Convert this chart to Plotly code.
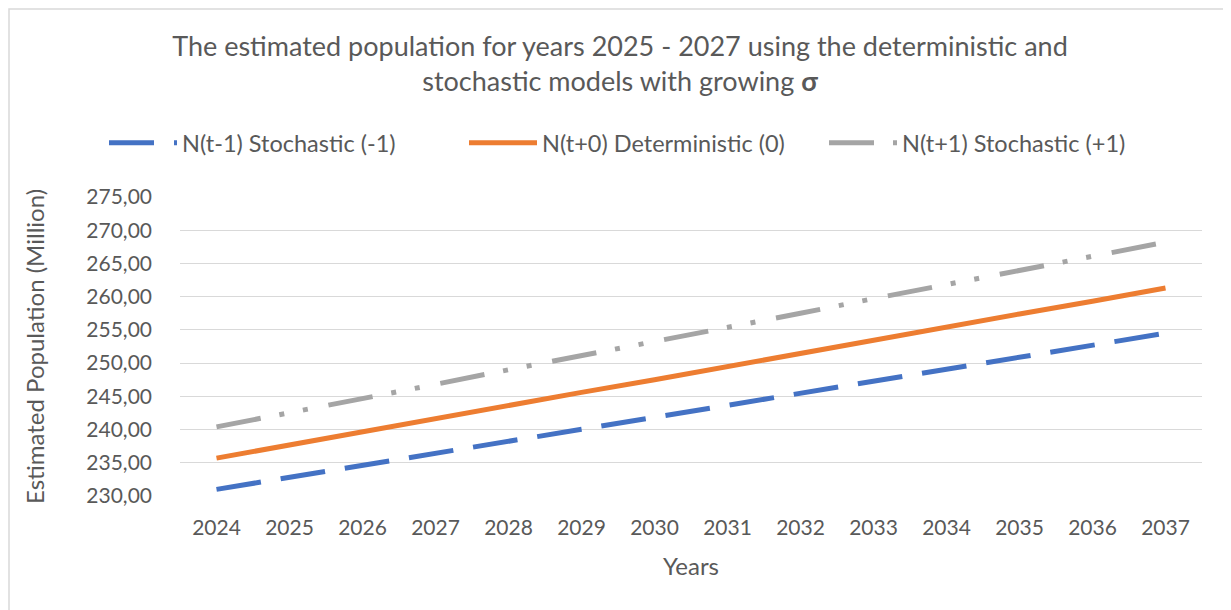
import plotly.graph_objects as go

years = ["2024", "2025", "2026", "2027", "2028", "2029", "2030",
         "2031", "2032", "2033", "2034", "2035", "2036", "2037"]
stoch_minus = [231.0, 232.8, 234.6, 236.4, 238.2, 240.1, 241.9,
               243.7, 245.5, 247.3, 249.1, 250.9, 252.7, 254.5]
determ = [235.7, 237.7, 239.6, 241.6, 243.6, 245.6, 247.5,
          249.5, 251.5, 253.4, 255.4, 257.4, 259.3, 261.3]
stoch_plus = [240.4, 242.5, 244.7, 246.8, 249.0, 251.1, 253.2,
              255.4, 257.5, 259.7, 261.8, 263.9, 266.1, 268.2]
y_ticks = [230, 235, 240, 245, 250, 255, 260, 265, 270, 275]

FONT = "Lato"
TXT = "#595959"

fig = go.Figure()
fig.add_trace(go.Scatter(x=years, y=stoch_minus, mode="lines",
                         name="N(t-1) Stochastic (-1)",
                         line=dict(color="#4472C4", width=5, dash="45px,20px")))
fig.add_trace(go.Scatter(x=years, y=determ, mode="lines",
                         name="N(t+0) Deterministic (0)",
                         line=dict(color="#ED7D31", width=5)))
fig.add_trace(go.Scatter(x=years, y=stoch_plus, mode="lines",
                         name="N(t+1) Stochastic (+1)",
                         line=dict(color="#A5A5A5", width=5,
                                   dash="45px,19px,5px,19px,5px,21px")))

# the page body has an 8px margin, so the figure is drawn 8px right/down
OFF = 8
W, H = 1231, 610
L, R, T, B = 172, 37, 189, 122
pw = W - L - R
ph = H - T - B

def px_x(p):  # screen px -> paper x
    return (p - OFF - L) / pw

def px_y(p):  # screen px -> paper y
    return 1 + (T - (p - OFF)) / ph

fig.update_layout(
    width=W, height=H,
    margin=dict(l=L, r=R, t=T, b=B, autoexpand=False),
    paper_bgcolor="white", plot_bgcolor="white",
    separators=",.",
    font=dict(family=FONT, color=TXT, size=20),
    title=dict(
        text="The estimated population for years 2025 - 2027 using the deterministic and<br>stochastic models with growing <b>σ</b>",
        x=(620 - OFF) / W, xanchor="center", xref="container",
        y=1 - 48 / H, yanchor="top", yref="container",
        font=dict(family=FONT, size=27, color=TXT),
    ),
    legend=dict(orientation="h", x=px_x(104), xanchor="left",
                y=px_y(143), yanchor="middle",
                font=dict(family=FONT, size=23.5, color=TXT),
                itemwidth=68, entrywidth=277, entrywidthmode="pixels",
                bgcolor="rgba(0,0,0,0)"),
    xaxis=dict(type="category", range=[-0.5, 13.5], showgrid=False,
               showline=False, zeroline=False, ticks="",
               tickfont=dict(family=FONT, size=21, color=TXT),
               ticklabelstandoff=17,
               title=dict(text="Years", font=dict(family=FONT, size=24, color=TXT),
                          standoff=20)),
    yaxis=dict(range=[230, 275], tickvals=y_ticks, tickformat=".2f",
               showgrid=True, gridcolor="#D9D9D9", gridwidth=1.3,
               zeroline=False, showline=False, ticks="",
               tickfont=dict(family=FONT, size=21, color=TXT),
               ticklabelstandoff=27,
               title=dict(text="Estimated Population (Million)",
                          font=dict(family=FONT, size=24, color=TXT),
                          standoff=34)),
    shapes=[dict(type="rect", xref="paper", yref="paper",
                 x0=px_x(9), x1=px_x(1260), y0=px_y(640), y1=px_y(9),
                 line=dict(color="#D9D9D9", width=1.5), layer="below")],
)

fig.write_html("out.html", config={"displayModeBar": False})
